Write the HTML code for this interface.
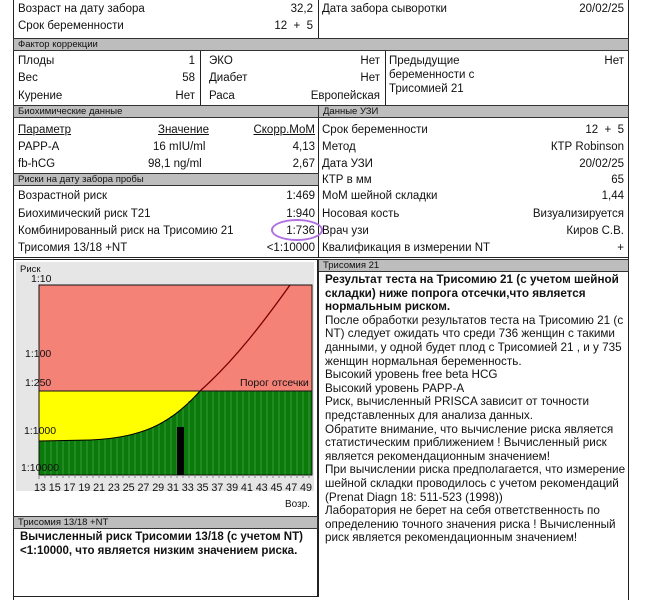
<!DOCTYPE html>
<html><head><meta charset="utf-8"><style>
body{margin:0;width:647px;height:600px;background:#fff;position:relative;overflow:hidden;font-family:"Liberation Sans","DejaVu Sans",sans-serif;color:#111}
.t{position:absolute;font-size:11.5px;white-space:nowrap;line-height:14px}
.r{text-align:right}
.h{position:absolute;background:#bdbdbd;border:1px solid #333;font-size:9.5px;line-height:11px;padding-left:4px;box-sizing:border-box;height:13px}
.l{position:absolute;background:#222}
</style></head><body>
<div class="l" style="left:13px;top:0;width:1px;height:600px"></div>
<div class="l" style="left:628px;top:0;width:1px;height:600px"></div>
<div class="l" style="left:318px;top:0;width:1px;height:38px"></div>
<div class="h" style="left:13px;top:38px;width:616px">Фактор коррекции</div>
<div class="l" style="left:200px;top:51px;width:1px;height:55px"></div>
<div class="l" style="left:385px;top:51px;width:1px;height:55px"></div>
<div class="h" style="left:13px;top:105px;width:306px">Биохимические данные</div>
<div class="h" style="left:318px;top:105px;width:311px">Данные УЗИ</div>
<div class="l" style="left:318px;top:118px;width:1px;height:140px"></div>
<div class="h" style="left:13px;top:173px;width:306px">Риски на дату забора пробы</div>
<div class="l" style="left:13px;top:257px;width:616px;height:1px"></div>

<div class="t" style="left:18px;top:2px">Возраст на дату забора</div>
<div class="t r" style="left:250px;top:2px;width:63px">32,2</div>
<div class="t" style="left:322px;top:2px">Дата забора сыворотки</div>
<div class="t r" style="left:520px;top:2px;width:104px">20/02/25</div>
<div class="t" style="left:18px;top:19px">Срок беременности</div>
<div class="t r" style="left:250px;top:19px;width:63px">12&nbsp; +&nbsp; 5</div>

<div class="t" style="left:18px;top:54px">Плоды</div><div class="t r" style="left:150px;top:54px;width:45px">1</div>
<div class="t" style="left:18px;top:71px">Вес</div><div class="t r" style="left:150px;top:71px;width:45px">58</div>
<div class="t" style="left:18px;top:89px">Курение</div><div class="t r" style="left:150px;top:89px;width:45px">Нет</div>
<div class="t" style="left:209px;top:54px">ЭКО</div><div class="t r" style="left:300px;top:54px;width:80px">Нет</div>
<div class="t" style="left:209px;top:71px">Диабет</div><div class="t r" style="left:300px;top:71px;width:80px">Нет</div>
<div class="t" style="left:209px;top:89px">Раса</div><div class="t r" style="left:280px;top:89px;width:100px">Европейская</div>
<div class="t" style="left:389px;top:54px;line-height:14px">Предыдущие<br>беременности с<br>Трисомией 21</div>
<div class="t r" style="left:560px;top:54px;width:64px">Нет</div>

<div class="t" style="left:18px;top:123px;text-decoration:underline">Параметр</div>
<div class="t" style="left:158px;top:123px;text-decoration:underline">Значение</div>
<div class="t r" style="left:220px;top:123px;width:95px;text-decoration:underline">Скорр.МоМ</div>
<div class="t" style="left:18px;top:140px">PAPP-A</div><div class="t" style="left:153px;top:140px">16 mIU/ml</div><div class="t r" style="left:250px;top:140px;width:65px">4,13</div>
<div class="t" style="left:18px;top:157px">fb-hCG</div><div class="t" style="left:148px;top:157px">98,1 ng/ml</div><div class="t r" style="left:250px;top:157px;width:65px">2,67</div>
<div class="t" style="left:18px;top:189px">Возрастной риск</div><div class="t r" style="left:230px;top:189px;width:85px">1:469</div>
<div class="t" style="left:18px;top:207px">Биохимический риск Т21</div><div class="t r" style="left:230px;top:207px;width:85px">1:940</div>
<div class="t" style="left:18px;top:224px">Комбинированный риск на Трисомию 21</div><div class="t r" style="left:230px;top:224px;width:85px">1:736</div>
<div class="t" style="left:18px;top:241px">Трисомия 13/18 +NT</div><div class="t r" style="left:200px;top:241px;width:115px">&lt;1:10000</div>
<div style="position:absolute;left:271px;top:219px;width:52px;height:22px;border:2px solid #b070e0;border-radius:50%;box-sizing:border-box"></div>

<div class="t" style="left:322px;top:123px">Срок беременности</div><div class="t r" style="left:520px;top:123px;width:104px">12&nbsp; +&nbsp; 5</div>
<div class="t" style="left:322px;top:140px">Метод</div><div class="t r" style="left:480px;top:140px;width:144px">КТР Robinson</div>
<div class="t" style="left:322px;top:157px">Дата УЗИ</div><div class="t r" style="left:520px;top:157px;width:104px">20/02/25</div>
<div class="t" style="left:322px;top:173px">КТР в мм</div><div class="t r" style="left:520px;top:173px;width:104px">65</div>
<div class="t" style="left:322px;top:189px">МоМ шейной складки</div><div class="t r" style="left:520px;top:189px;width:104px">1,44</div>
<div class="t" style="left:322px;top:207px">Носовая кость</div><div class="t r" style="left:480px;top:207px;width:144px">Визуализируется</div>
<div class="t" style="left:322px;top:224px">Врач узи</div><div class="t r" style="left:480px;top:224px;width:144px">Киров С.В.</div>
<div class="t" style="left:322px;top:241px">Квалификация в измерении NT</div><div class="t r" style="left:520px;top:241px;width:104px">+</div>

<div style="position:absolute;left:13px;top:259px;width:305px;height:338px;border:1px solid #222;box-sizing:border-box"></div>
<div style="position:absolute;left:16px;top:262px;width:298px;height:229px;background:#e6e6e6"></div>
<svg style="position:absolute;left:0;top:0" width="330" height="600">
<rect x="39" y="285" width="273" height="106" fill="#f48277"/>
<rect x="39" y="391" width="273" height="84" fill="#0a7a0a"/>
<path d="M39,441 L90,440 C140,438 170,425 200,391 L39,391 Z" fill="#ffff00"/>
<g stroke="#3b9a3b" stroke-width="1">
<path d="M45,441V475M51,441V475M57,441V475M63,441V475M69,441V475M75,441V475M81,441V475M87,440V475M93,440V475M99,440V475M105,439V475M111,439V475M117,438V475M123,437V475M129,436V475M135,434V475M141,432V475M147,430V475M153,427V475M159,424V475M165,420V475M171,416V475M177,412V475M183,407V475M189,401V475M195,396V475M201,391V475M207,391V475M213,391V475M219,391V475M225,391V475M231,391V475M237,391V475M243,391V475M249,391V475M255,391V475M261,391V475M267,391V475M273,391V475M279,391V475M285,391V475M291,391V475M297,391V475M303,391V475M309,391V475"/>
</g>
<path d="M39,441 L90,440 C140,438 170,425 200,391" fill="none" stroke="#000" stroke-width="1"/>
<path d="M200,391 C235,360 265,320 290,285" fill="none" stroke="#7a0000" stroke-width="1.3"/>
<rect x="39" y="285" width="273" height="190" fill="none" stroke="#111"/>
<line x1="39" y1="391" x2="312" y2="391" stroke="#111"/>
<rect x="177" y="427" width="7" height="48" fill="#000"/>
<g stroke="#888"><path d="M39,475v4M45,475v3M51,475v3M57,475v3M63,475v3M69,475v3M75,475v3M81,475v3M87,475v3M93,475v3M99,475v3M105,475v3M111,475v3M117,475v3M123,475v3M129,475v3M135,475v3M141,475v3M147,475v3M153,475v3M159,475v3M165,475v3M171,475v3M177,475v3M183,475v3M189,475v3M195,475v3M201,475v3M207,475v3M213,475v3M219,475v3M225,475v3M231,475v3M237,475v3M243,475v3M249,475v3M255,475v3M261,475v3M267,475v3M273,475v3M279,475v3M285,475v3M291,475v3M297,475v3M303,475v3M309,475v3"/></g>
<g font-family="Liberation Sans,sans-serif" font-size="10.5" fill="#111">
<text x="20" y="272" font-size="9.5">Риск</text>
<text x="31" y="282">1:10</text>
<text x="25" y="357">1:100</text>
<text x="25" y="386">1:250</text>
<text x="24" y="434">1:1000</text>
<text x="21" y="471">1:10000</text>
<text x="240" y="386">Порог отсечки</text>
<text x="34" y="491" font-size="10.8" textLength="278">13 15 17 19 21 23 25 27 29 31 33 35 37 39 41 43 45 47 49</text>
<text x="285" y="507" font-size="10">Возр.</text>
</g>
</svg>
<div class="h" style="left:13px;top:516px;width:305px">Трисомия 13/18 +NT</div>
<div class="t" style="left:20px;top:530px;font-weight:bold;font-size:11.5px">Вычисленный риск Трисомии 13/18 (с учетом NT)<br>&lt;1:10000, что является низким значением риска.</div>

<div class="h" style="left:318px;top:259px;width:311px">Трисомия 21</div>
<div style="position:absolute;left:318px;top:271px;width:1px;height:326px;background:#222"></div>
<div class="t" style="left:325px;top:273px;font-size:11.7px;line-height:13.6px"><b>Результат теста на Трисомию 21 (с учетом шейной<br>складки) ниже попрога отсечки,что является<br>нормальным риском.</b><br>После обработки результатов теста на Трисомию 21 (с<br>NT) следует ожидать что среди 736 женщин с такими<br>данными, у одной будет плод с Трисомией 21 , и у 735<br>женщин нормальная беременность.<br>Высокий уровень free beta HCG<br>Высокий уровень PAPP-A<br>Риск, вычисленный PRISCA зависит от точности<br>представленных для анализа данных.<br>Обратите внимание, что вычисление риска является<br>статистическим приближением ! Вычисленный риск<br>является рекомендационным значением!<br>При вычислении риска предполагается, что измерение<br>шейной складки проводилось с учетом рекомендаций<br>(Prenat Diagn 18: 511-523 (1998))<br>Лаборатория не берет на себя ответственность по<br>определению точного значения риска ! Вычисленный<br>риск является рекомендационным значением!</div>
</body></html>
